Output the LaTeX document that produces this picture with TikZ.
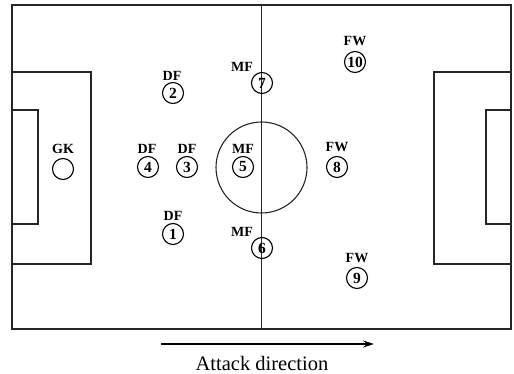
\documentclass[tikz,border=0pt]{standalone}
\usepackage{fontspec}
\setmainfont{Liberation Serif}
\usetikzlibrary{arrows.meta}
\begin{document}
\begin{tikzpicture}[x=1pt,y=-1pt,
  pitchline/.style={draw=black!85, line width=1.1pt},
  player/.style={circle, draw, line width=1.1pt, minimum size=21pt, inner sep=0pt,
    font=\bfseries\fontsize{15.5}{15.5}\selectfont},
  role/.style={inner sep=0pt, font=\bfseries\fontsize{14}{14}\selectfont}]
\useasboundingbox (0,0) rectangle (514,374);
% pitch outline, halfway line and centre circle
\draw[pitchline] (12,5) rectangle (511,329);
\draw[pitchline] (261.5,5) -- (261.5,329);
\draw[pitchline] (261.5,167.5) circle[radius=45.5];
% penalty areas and goal areas
\draw[pitchline] (12,72) rectangle (91,264);
\draw[pitchline] (12,110) rectangle (38,224);
\draw[pitchline] (511,72) rectangle (434,264);
\draw[pitchline] (511,110) rectangle (486,224);
% goalkeeper
\node[player] (gk) at (63,169) {};
\node[role] (gkl) at (63,149) {GK};
% defenders
\node[player] (p1) at (173,234) {1};
\node[role] (l1) at (173,216) {DF};
\node[player] (p2) at (173,93) {2};
\node[role] (l2) at (172,76) {DF};
\node[player] (p3) at (187,167) {3};
\node[role] (l3) at (187,149) {DF};
\node[player] (p4) at (148,167) {4};
\node[role] (l4) at (147,149) {DF};
% midfielders
\node[player] (p5) at (243,167) {5};
\node[role] (l5) at (243,149) {MF};
\node[player] (p6) at (262,248) {6};
\node[role] (l6) at (242,232) {MF};
\node[player] (p7) at (262,83) {7};
\node[role] (l7) at (242,67) {MF};
% forwards
\node[player] (p8) at (337,167) {8};
\node[role] (l8) at (337,147) {FW};
\node[player] (p9) at (357,278) {9};
\node[role] (l9) at (357,258) {FW};
\node[player] (p10) at (355,62) {10};
\node[role] (l10) at (355,41) {FW};
% attack direction arrow
\coordinate (as) at (161,344);
\coordinate (ae) at (374,344);
\draw[line width=1.1pt, -{Stealth[length=11pt,width=7pt]}] (as) -- (ae);
\node[inner sep=0pt, font=\fontsize{20.5}{20.5}\selectfont] (cap) at (262,363) {Attack direction};
\end{tikzpicture}
\end{document}
